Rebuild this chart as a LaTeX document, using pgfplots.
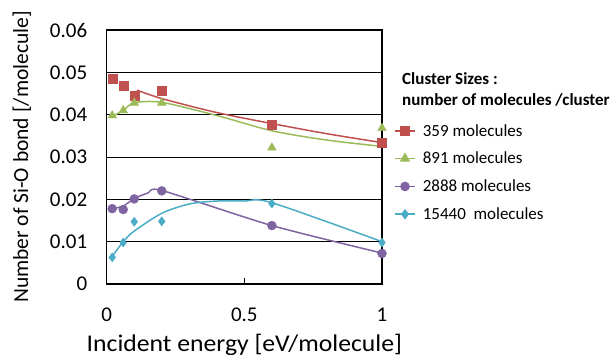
\documentclass[border=0pt]{standalone}
\usepackage{fontspec}
\setmainfont{Carlito}
\usepackage{pgfplots}
\pgfplotsset{compat=1.18}
\definecolor{cred}{HTML}{C0504D}
\definecolor{cgreen}{HTML}{9BBB59}
\definecolor{cpurple}{HTML}{8064A2}
\definecolor{ccyan}{HTML}{4BACC6}
\begin{document}
\begin{tikzpicture}
\useasboundingbox (-106.7pt,-70pt) rectangle (508.3pt,284pt);
\begin{axis}[
  at={(0pt,0pt)}, anchor=south west,
  scale only axis, width=275.3pt, height=254pt,
  xmin=0, xmax=1, ymin=0, ymax=0.06,
  scaled y ticks=false, scaled x ticks=false,
  xtick={0,0.5,1}, xticklabels={0,0.5,1},
  ytick={0,0.01,0.02,0.03,0.04,0.05,0.06},
  yticklabels={0,0.01,0.02,0.03,0.04,0.05,0.06},
  xtick pos=bottom, ytick pos=left,
  xtick align=inside,
  major tick length=6pt,
  ytick style={draw=none},
  xtick style={line width=1.2pt, black},
  ymajorgrids, grid style={black, line width=0.9pt},
  axis line style={line width=1.4pt},
  tick label style={font=\fontsize{21}{24}\selectfont},
  /pgf/number format/assume math mode=true,
  xticklabel style={yshift=-20pt},
  yticklabel style={xshift=-16pt},
  xlabel={Incident energy [eV/molecule]},
  ylabel={Number of Si-O bond [/molecule]},
  xlabel style={font=\fontsize{24}{28}\selectfont, xscale=1.07, at={(axis description cs:0.5,0)}, anchor=center, yshift=-61pt},
  ylabel style={font=\fontsize{21.5}{24}\selectfont, at={(axis description cs:0,0.5)}, anchor=center, yshift=85pt},
  legend style={draw=none, fill=none, at={(1,1)}, anchor=north west,
    xshift=12pt, yshift=-92pt, font=\fontsize{17}{19}\selectfont,
    row sep=10.5pt, inner sep=0pt, legend cell align=left,
    nodes={inner xsep=7pt}},
  legend image code/.code={
    \draw[line width=1.6pt, mark repeat=2, mark phase=2, #1] plot coordinates {(0pt,0pt) (10pt,0pt) (20pt,0pt)};
  },
  clip=false,
]
% trend curves
\addplot[cred, line width=1.5pt, smooth, forget plot] coordinates {
 (0.11,0.0458) (0.2,0.0438) (0.4,0.0405) (0.6,0.0379) (0.8,0.0355) (1.0,0.0334)};
\addplot[cgreen, line width=1.5pt, smooth, forget plot] coordinates {
 (0.02,0.0396) (0.06,0.0410) (0.1,0.0428) (0.2,0.0429) (0.4,0.0398) (0.6,0.0362) (0.8,0.0340) (1.0,0.0325)};
\addplot[cpurple, line width=1.5pt, smooth, tension=0.4, forget plot] coordinates {
 (0.02,0.0178) (0.06,0.0184) (0.1,0.0202) (0.15,0.0215) (0.2,0.0221) (0.6,0.0138) (1.0,0.0073)};
\addplot[ccyan, line width=1.5pt, smooth, tension=0.5, forget plot] coordinates {
 (0.02,0.0065) (0.06,0.0100) (0.1,0.0125) (0.2,0.0167) (0.3,0.0189) (0.4,0.0196) (0.5,0.0196) (0.6,0.0192) (1.0,0.0100)};
% data points
\addplot[only marks, mark=square*, mark size=4.5pt, cred, forget plot] coordinates {
 (0.02,0.0484) (0.06,0.0469) (0.1,0.0444) (0.2,0.0457) (0.6,0.0376) (1.0,0.0334)};
\addplot[only marks, mark=triangle*, mark size=5pt, cgreen, forget plot] coordinates {
 (0.02,0.0398) (0.06,0.0410) (0.1,0.0428) (0.2,0.0428) (0.6,0.0322) (1.0,0.0368)};
\addplot[only marks, mark=*, mark size=4.5pt, cpurple, forget plot] coordinates {
 (0.02,0.0178) (0.06,0.0176) (0.1,0.0201) (0.2,0.0220) (0.6,0.0138) (1.0,0.0072)};
\addplot[only marks, mark=diamond*, mark size=4.5pt, ccyan, forget plot] coordinates {
 (0.02,0.0063) (0.06,0.0098) (0.1,0.0147) (0.2,0.0148) (0.6,0.0190) (1.0,0.0098)};
\addlegendimage{cred, mark=square*, mark size=4pt}
\addlegendentry{359 molecules}
\addlegendimage{cgreen, mark=triangle*, mark size=4.5pt}
\addlegendentry{891 molecules}
\addlegendimage{cpurple, mark=*, mark size=4pt}
\addlegendentry{2888 molecules}
\addlegendimage{ccyan, mark=diamond*, mark size=4pt}
\addlegendentry{15440\ \ molecules}
\node[anchor=west, align=left, font=\bfseries\fontsize{17}{21}\selectfont, inner sep=0pt]
  at ([xshift=20pt, yshift=-59pt]current axis.north east) {Cluster Sizes :\\number of molecules /cluster};
\end{axis}
\end{tikzpicture}
\end{document}
